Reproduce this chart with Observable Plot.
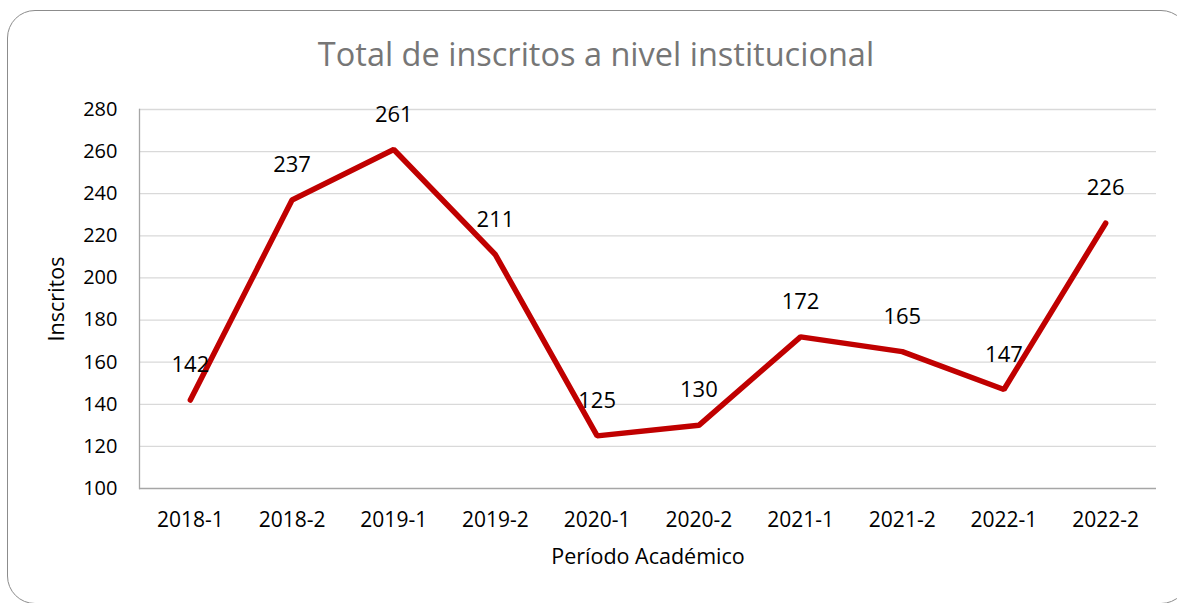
<!DOCTYPE html>
<html>
<head>
<meta charset="utf-8">
<script src="https://cdn.jsdelivr.net/npm/d3@7"></script>
<script src="https://cdn.jsdelivr.net/npm/@observablehq/plot@0.6"></script>
<style>
  html, body { margin: 0; padding: 0; background: #fff; }
  #wrap { position: relative; width: 1177px; height: 603px; overflow: hidden; }
  #border { position: absolute; left: 7px; top: 10px; width: 1182px; height: 594px;
            border: 1.3px solid #8c8c8c; border-radius: 28px; pointer-events: none; box-sizing: border-box; }
</style>
</head>
<body>
<div id="wrap"><div id="border"></div></div>
<script>
const periods = ["2018-1","2018-2","2019-1","2019-2","2020-1","2020-2","2021-1","2021-2","2022-1","2022-2"];
const inscritos = [142, 237, 261, 211, 125, 130, 172, 165, 147, 226];
const yTicks = [100,120,140,160,180,200,220,240,260,280];
const title = "Total de inscritos a nivel institucional";
const xLabel = "Período Académico";
const yLabel = "Inscritos";

const data = periods.map((p, i) => ({period: p, value: inscritos[i]}));

const chart = Plot.plot({
  width: 1177,
  height: 603,
  marginLeft: 139,
  marginRight: 21,
  marginTop: 109,
  marginBottom: 115,
  style: {fontFamily: "'Open Sans', sans-serif", fontSize: "20px", color: "#000", background: "transparent"},
  x: {type: "point", domain: periods, padding: 0.5, round: false},
  y: {domain: [100, 280]},
  marks: [
    Plot.ruleY(yTicks.slice(1), {stroke: "#d9d9d9", strokeWidth: 1.3, strokeOpacity: 1}),
    Plot.ruleY([100], {stroke: "#a6a6a6", strokeWidth: 1.3}),
    Plot.frame({anchor: "left", stroke: "#a6a6a6", strokeWidth: 1.3}),
    Plot.axisY({ticks: yTicks, tickSize: 0, tickPadding: 22, fontSize: 20, label: null}),
    Plot.axisX({tickSize: 0, tickPadding: 24, fontSize: 21, label: null}),
    Plot.line(data, {x: "period", y: "value", stroke: "#c00000", strokeWidth: 5.5, strokeLinejoin: "miter", strokeLinecap: "round"}),
    Plot.text(data, {x: "period", y: "value", text: d => String(d.value), dy: -35, fontSize: 22, fill: "#000"}),
    Plot.text([yLabel], {frameAnchor: "left", lineAnchor: "middle", textAnchor: "middle", rotate: -90, dx: -82, fontSize: 21.5, fill: "#000"}),
    Plot.text([xLabel], {frameAnchor: "bottom", lineAnchor: "middle", dy: 69, fontSize: 21.5, fill: "#000"}),
    Plot.text([title], {frameAnchor: "top", lineAnchor: "middle", dx: -52, dy: -54, fontSize: 32.5, fill: "#767676"})
  ]
});
document.getElementById("wrap").prepend(chart);
</script>
</body>
</html>
